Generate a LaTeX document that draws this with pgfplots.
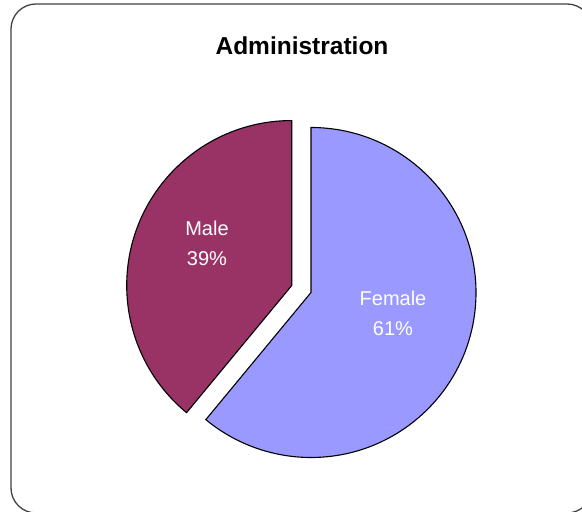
\documentclass[border=0pt]{standalone}
\usepackage{pgfplots}
\pgfplotsset{compat=1.18}
\usepackage{pgfplotstable}
\usepackage{fontspec}
\setmainfont{Liberation Sans}

\definecolor{male}{HTML}{993366}
\definecolor{female}{HTML}{9999FF}
\definecolor{frame}{HTML}{404040}

% share of each group, in percent
\pgfplotstableread{
group  share
Female 61
Male   39
}\shares

\begin{document}
\begin{tikzpicture}
\useasboundingbox (0,0) rectangle (582bp,512bp);
\pgfplotstablegetelem{0}{share}\of\shares \let\female\pgfplotsretval
\pgfplotstablegetelem{1}{share}\of\shares \let\male\pgfplotsretval
% Female runs clockwise from 12 o'clock, Male takes the rest
\pgfmathsetmacro{\fend}{90-3.6*\female}
\pgfmathsetmacro{\mend}{90+3.6*\male}
\pgfmathsetmacro{\mmid}{(90+\mend)/2}
\begin{axis}[
    at={(0,0)}, anchor=south west,
    scale only axis,
    width=582bp, height=512bp,
    xmin=0, xmax=582, ymin=0, ymax=512,
    hide axis,
    clip=true,
]
  % outer frame, cut off on the right and bottom
  \draw[frame, line width=1.3bp, rounded corners=25bp]
    (axis cs:11,508) rectangle (axis cs:592,-1);

  % female slice
  \filldraw[fill=female, draw=black, line width=1.1bp]
    (axis cs:311,219.5) -- ++(90:165bp)
    arc[start angle=90, end angle=\fend, radius=165bp] -- cycle;

  % male slice, pulled out along its middle
  \filldraw[fill=male, draw=black, line width=1.1bp, shift={(\mmid:20.5bp)}]
    (axis cs:311,219.5) -- ++(90:165bp)
    arc[start angle=90, end angle=\mend, radius=165bp] -- cycle;

  \node[anchor=base, font=\bfseries\fontsize{24.5bp}{29bp}\selectfont]
    at (axis cs:302,457) {Administration};

  \node[anchor=base, white, font=\fontsize{20bp}{24bp}\selectfont]
    at (axis cs:207,276) {Male};
  \node[anchor=base, white, font=\fontsize{20bp}{24bp}\selectfont]
    at (axis cs:207,246) {\male\%};
  \node[anchor=base, white, font=\fontsize{20bp}{24bp}\selectfont]
    at (axis cs:393,206) {Female};
  \node[anchor=base, white, font=\fontsize{20bp}{24bp}\selectfont]
    at (axis cs:393,176) {\female\%};
\end{axis}
\end{tikzpicture}
\end{document}
